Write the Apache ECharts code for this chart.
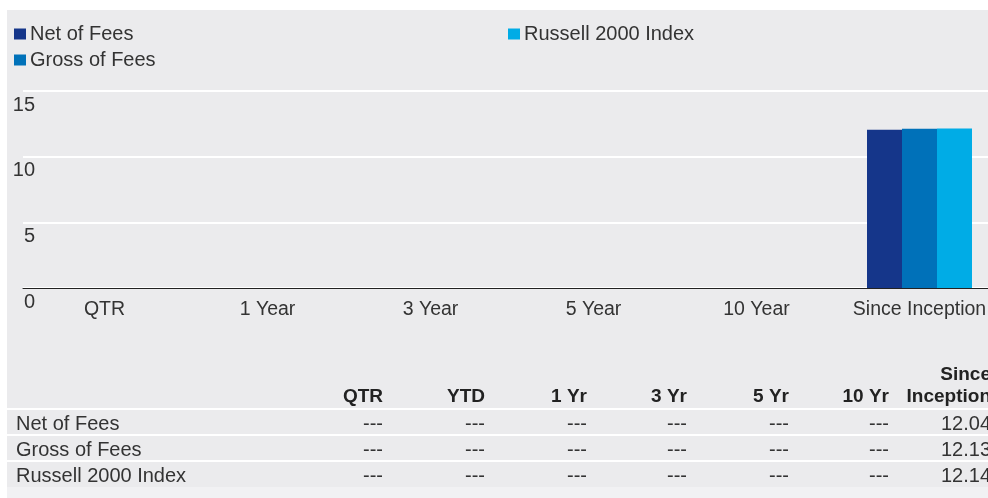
<!DOCTYPE html>
<html><head><meta charset="utf-8">
<script src="https://cdn.jsdelivr.net/npm/echarts@6/dist/echarts.min.js"></script>
<style>html,body{margin:0;padding:0;background:#fff;overflow:hidden;width:988px;height:498px}#c{width:1001px;height:498px}</style>
</head><body><div id="c"></div>
<script>
const categories = ['QTR', '1 Year', '3 Year', '5 Year', '10 Year', 'Since Inception'];
const seriesNames = ['Net of Fees', 'Gross of Fees', 'Russell 2000 Index'];
const netOfFees = [null, null, null, null, null, 12.04];
const grossOfFees = [null, null, null, null, null, 12.13];
const russell2000 = [null, null, null, null, null, 12.14];
const yTicks = [0, 5, 10, 15];
const tableColumns = ['QTR', 'YTD', '1 Yr', '3 Yr', '5 Yr', '10 Yr', 'Since\nInception'];
const tableNet = ['---', '---', '---', '---', '---', '---', '12.04'];
const tableGross = ['---', '---', '---', '---', '---', '---', '12.13'];
const tableRussell = ['---', '---', '---', '---', '---', '---', '12.14'];

const colors = ['#15368a', '#0071b9', '#00ace6'];
const FONT = '"Liberation Sans", Arial, sans-serif';
const TXT = '#333333';

const chart = echarts.init(document.getElementById('c'), null, {renderer: 'canvas'});

const graphics = [
  {type: 'rect', shape: {x: 7, y: 10, width: 994, height: 477}, style: {fill: '#ebebed'}, z: -10, silent: true},
  {type: 'rect', shape: {x: 7, y: 487, width: 994, height: 11}, style: {fill: '#f1f1f3'}, z: -10, silent: true}
];
const colRight = [383, 485, 587, 687, 789, 889, 991];
tableColumns.forEach((c, i) => {
  graphics.push({type: 'text', x: colRight[i], y: 408, style: {text: c, font: 'bold 19px ' + FONT, fill: '#222', align: 'right', verticalAlign: 'bottom', lineHeight: 22}});
});
const rows = [[seriesNames[0], tableNet], [seriesNames[1], tableGross], [seriesNames[2], tableRussell]];
const rowY = [424, 450, 476];
[409, 435, 461].forEach(y => {
  graphics.push({type: 'rect', shape: {x: 7, y: y - 1, width: 994, height: 2}, style: {fill: '#ffffff'}, silent: true});
});
rows.forEach((r, ri) => {
  graphics.push({type: 'text', x: 16, y: rowY[ri], style: {text: r[0], font: '20px ' + FONT, fill: TXT, align: 'left', verticalAlign: 'middle'}});
  r[1].forEach((v, ci) => {
    graphics.push({type: 'text', x: colRight[ci], y: rowY[ri], style: {text: v, font: '20px ' + FONT, fill: TXT, align: 'right', verticalAlign: 'middle'}});
  });
});

function legend(name, left, top) {
  return {data: [name], left: left, top: top, padding: 0, itemWidth: 12, itemHeight: 11, icon: 'rect',
    textStyle: {fontFamily: FONT, fontSize: 20, color: TXT, padding: [0, 0, 0, -1]}, selectedMode: false};
}

chart.setOption({
  animation: false,
  backgroundColor: 'transparent',
  graphic: graphics,
  legend: [legend(seriesNames[0], 14, 24), legend(seriesNames[1], 14, 50), legend(seriesNames[2], 508, 24)],
  grid: {left: 23, top: 91, right: 0, height: 197, containLabel: false},
  xAxis: {
    type: 'category', data: categories,
    axisLine: {lineStyle: {color: '#222', width: 1}},
    axisTick: {show: false},
    axisLabel: {fontFamily: FONT, fontSize: 19.5, color: TXT, margin: 12, interval: 0}
  },
  yAxis: {
    type: 'value', min: 0, max: 15, interval: 5,
    axisLine: {show: false}, axisTick: {show: false},
    splitLine: {lineStyle: {color: '#ffffff', width: 2}},
    axisLabel: {fontFamily: FONT, fontSize: 20, color: TXT, margin: -12, align: 'right', verticalAlign: 'top', padding: [4, 0, 0, 0]}
  },
  series: [
    {name: seriesNames[0], type: 'bar', data: netOfFees, itemStyle: {color: colors[0]}, barWidth: 35, barGap: '0%'},
    {name: seriesNames[1], type: 'bar', data: grossOfFees, itemStyle: {color: colors[1]}, barWidth: 35, barGap: '0%'},
    {name: seriesNames[2], type: 'bar', data: russell2000, itemStyle: {color: colors[2]}, barWidth: 35, barGap: '0%'}
  ]
});
</script></body></html>
